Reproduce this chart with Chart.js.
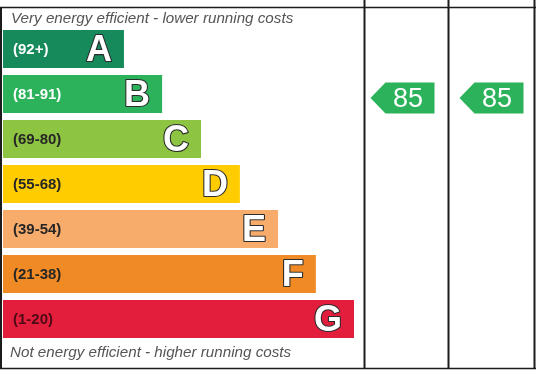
<!DOCTYPE html>
<html>
<head>
<meta charset="utf-8">
<script src="https://cdn.jsdelivr.net/npm/chart.js@4.4.1/dist/chart.umd.min.js"></script>
<style>
html,body{margin:0;padding:0;background:#fff}
#wrap{width:536px;height:370px}
</style>
</head>
<body>
<div id="wrap"><canvas id="epc" width="536" height="370"></canvas></div>
<script>
const bands=['A','B','C','D','E','F','G']
const ranges=['(92+)','(81-91)','(69-80)','(55-68)','(39-54)','(21-38)','(1-20)']
const lowBound=[92,81,69,55,39,21,1]
const highBound=[100,91,80,68,54,38,20]
const barLength=[33.6,44.2,55,65.8,76.4,86.9,97.5]
const barColors=['#178a5c','#2bb25a','#8dc442','#ffcc00','#f7ac6c','#f08a24','#e31e3d']
const rangeColors=['#ffffff','#ffffff','#262626','#262626','#262626','#262626','#4e0a16']
const ratings=[85,85] // current, potential
const topNote='Very energy efficient - lower running costs'
const bottomNote='Not energy efficient - higher running costs'

const FONT="Arial, 'Liberation Sans', sans-serif"
const colW=[84,86]
const arrowGap=[14,11]

function bandOf(v){
    for(let i=0;i<bands.length;i++)
    if(v>=lowBound[i]&&v<=highBound[i]) return i
    return bands.length-1
}

const barText={
    id:'barText',
    afterDatasetsDraw(chart){
        const ctx=chart.ctx
        const meta=chart.getDatasetMeta(0)
        ctx.save()
        ctx.textBaseline='middle'
        meta.data.forEach((bar,i)=>{
            ctx.font='bold 15px '+FONT
            ctx.fillStyle=rangeColors[i]
            ctx.textAlign='left'
            ctx.fillText(ranges[i],bar.base+10,bar.y+1)
            ctx.font='bold 36px '+FONT
            ctx.textAlign='right'
            ctx.lineWidth=2.2
            ctx.strokeStyle='#2b2b2b'
            ctx.lineJoin='round'
            ctx.strokeText(bands[i],bar.x-12,bar.y+2)
            ctx.fillStyle='#ffffff'
            ctx.fillText(bands[i],bar.x-12,bar.y+2)
        })
        ctx.restore()
    }
}

const frame={
    id:'frame',
    afterDraw(chart){
        const ctx=chart.ctx, a=chart.chartArea
        const W=chart.width
        const yScale=chart.scales.y
        const step=yScale.getPixelForValue(1)-yScale.getPixelForValue(0)
        ctx.save()
        // notes
        ctx.font='italic 15.2px '+FONT
        ctx.fillStyle='#555555'
        ctx.textBaseline='middle'
        ctx.textAlign='left'
        ctx.fillText(topNote,11,19)
        ctx.fillText(bottomNote,10,353)
        // lines
        ctx.strokeStyle='#1c1c1c'
        ctx.lineWidth=1.5
        ctx.beginPath()
        ctx.moveTo(0,7.5);ctx.lineTo(W,7.5)
        ctx.moveTo(0,368.5);ctx.lineTo(W,368.5)
        ctx.stroke()
        const xs=[a.right+1.5]
        colW.forEach(w=>xs.push(xs[xs.length-1]+w))
        ctx.lineWidth=2
        ctx.beginPath()
        ctx.moveTo(1,7);ctx.lineTo(1,369)
        xs.forEach(x=>{ctx.moveTo(x,0);ctx.lineTo(x,369)})
        ctx.stroke()
        // rating arrows
        ratings.forEach((v,k)=>{
            const i=bandOf(v)
            const frac=(highBound[i]+0.5-v)/(highBound[i]-lowBound[i]+1)
            const y=yScale.getPixelForValue(i)-step/2+frac*step
            const right=xs[k+1]-arrowGap[k]
            const left=right-64, body=left+15, h=31
            ctx.fillStyle=barColors[i]
            ctx.beginPath()
            ctx.moveTo(left,y)
            ctx.lineTo(body,y-h/2)
            ctx.lineTo(right,y-h/2)
            ctx.lineTo(right,y+h/2)
            ctx.lineTo(body,y+h/2)
            ctx.closePath()
            ctx.fill()
            ctx.fillStyle='#ffffff'
            ctx.font='27px '+FONT
            ctx.textAlign='center'
            ctx.fillText(String(v),(body+right)/2-2,y+1)
        })
        ctx.restore()
    }
}

new Chart(document.getElementById('epc'),{
    type:'bar',
    data:{
        labels:bands,
        datasets:[{
            data:barLength,
            backgroundColor:barColors,
            borderWidth:0,
            barPercentage:38/45,
            categoryPercentage:1
        }]
    },
    options:{
        indexAxis:'y',
        responsive:false,
        animation:false,
        layout:{padding:{left:3,right:173,top:26.5,bottom:28.5}},
        plugins:{legend:{display:false},tooltip:{enabled:false}},
        scales:{
            x:{display:false,min:0,max:100},
            y:{display:false}
        }
    },
    plugins:[barText,frame]
})
</script>
</body>
</html>
